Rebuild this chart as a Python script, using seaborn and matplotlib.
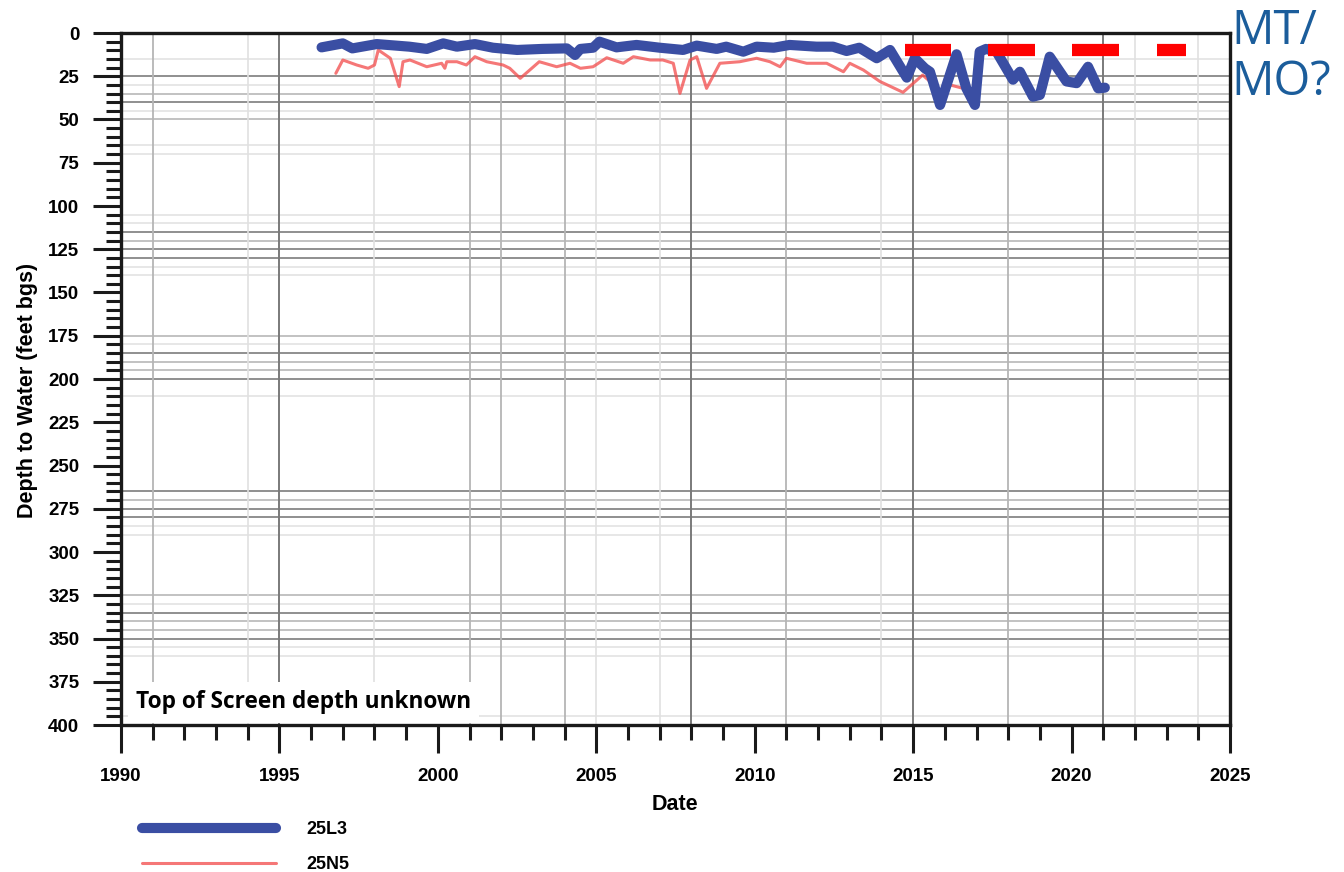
import numpy as np
import pandas as pd
import matplotlib
matplotlib.use("Agg")
import matplotlib.pyplot as plt
import seaborn as sns

# ---------------- data ----------------
l3_year = [1996.33, 1997.0, 1997.3, 1998.07, 1999.1, 1999.65, 2000.17, 2000.6, 2001.17, 2001.74,
           2002.5, 2003.3, 2004.07, 2004.33, 2004.5, 2004.9, 2005.1, 2005.64, 2006.27, 2007.0,
           2007.74, 2008.17, 2008.8, 2009.1, 2009.64, 2010.06, 2010.6, 2011.1, 2011.95, 2012.47,
           2012.9, 2013.3, 2013.85, 2014.27, 2014.8, 2015.05, 2015.37, 2015.53, 2015.85, 2016.37,
           2016.68, 2016.95, 2017.1, 2017.3, 2017.63, 2018.15, 2018.37, 2018.78, 2019.0, 2019.31,
           2019.84, 2020.16, 2020.52, 2020.84, 2021.05]
l3_depth = [8.3, 6.0, 8.9, 6.4, 7.9, 9.2, 6.0, 7.9, 6.4, 8.5,
            9.8, 9.2, 8.9, 12.7, 9.2, 8.5, 5.0, 8.3, 6.9, 8.5,
            9.8, 7.3, 9.2, 7.9, 10.8, 7.9, 8.5, 6.9, 7.9, 7.9,
            10.4, 8.5, 14.6, 9.8, 25.8, 14.6, 20.4, 22.4, 41.6, 12.3,
            32.0, 41.6, 10.8, 9.2, 10.8, 27.0, 22.4, 36.8, 35.8, 13.7,
            28.0, 29.0, 19.5, 32.0, 31.6]

n5_year = [1996.78, 1997.0, 1997.44, 1997.8, 1998.0, 1998.12, 1998.5, 1998.78, 1998.9, 1999.12,
           1999.65, 2000.12, 2000.22, 2000.28, 2000.6, 2000.9, 2001.17, 2001.54, 2002.06, 2002.27,
           2002.6, 2003.2, 2003.75, 2004.17, 2004.5, 2004.9, 2005.33, 2005.85, 2006.17, 2006.7,
           2007.1, 2007.43, 2007.64, 2007.96, 2008.17, 2008.48, 2008.9, 2009.53, 2010.06, 2010.48,
           2010.8, 2011.0, 2011.22, 2011.64, 2012.27, 2012.8, 2013.0, 2013.43, 2013.95, 2014.68,
           2015.3, 2015.53, 2015.8, 2016.16, 2016.58, 2016.79, 2016.95, 2017.1]
n5_depth = [23.3, 15.6, 18.5, 20.4, 18.5, 9.8, 14.6, 31.0, 16.6, 15.6,
            19.5, 17.5, 20.4, 16.6, 16.6, 18.5, 13.7, 16.6, 18.5, 20.4,
            26.2, 16.6, 19.5, 17.5, 20.4, 19.5, 14.3, 17.5, 13.7, 15.6,
            15.6, 17.5, 34.9, 15.6, 13.7, 32.0, 17.5, 16.6, 14.6, 16.6,
            19.5, 14.6, 15.6, 17.5, 17.5, 22.4, 17.5, 21.4, 28.0, 34.3,
            24.3, 28.0, 42.6, 30.0, 32.0, 36.8, 32.0, 18.5]

mt_start = [2014.75, 2017.35, 2020.0, 2022.7]
mt_end = [2016.2, 2018.85, 2021.5, 2023.6]
mt_depth = [10, 10, 10, 10]

series_names = ["25L3", "25N5"]
x_ticks = [1990, 1995, 2000, 2005, 2010, 2015, 2020, 2025]
y_ticks = list(range(0, 401, 25))

# ---------------- styling constants ----------------
hgrid_dark = [25, 40, 115, 125, 130, 185, 200, 265, 275, 280, 335, 350]
hgrid_mid = [35, 50, 120, 175, 190, 195, 270, 325, 340, 345]
hgrid_light = [15, 30, 45, 65, 70, 105, 110, 135, 140, 180, 210, 285, 290, 330, 355, 360, 395]
vgrid_dark = [1995, 2008, 2015, 2021]
vgrid_mid = [1991, 2001, 2002, 2004, 2011, 2018]
vgrid_light = [1994, 1998, 2005, 2007, 2014, 2022, 2024]

sns.set_theme(style="white")
plt.rcParams['font.family'] = ['Liberation Sans', 'DejaVu Sans']
plt.rcParams['text.color'] = 'black'
plt.rcParams['axes.labelcolor'] = 'black'
plt.rcParams['xtick.color'] = '#1a1a1a'
plt.rcParams['ytick.color'] = '#1a1a1a'
plt.rcParams['xtick.labelcolor'] = 'black'
plt.rcParams['ytick.labelcolor'] = 'black'

fig = plt.figure(figsize=(13.44, 8.72), dpi=100)
ax = fig.add_axes([121/1344, 1-725/872, (1230-121)/1344, (725-33)/872])

# grid
for v in hgrid_light:
    ax.axhline(v, color="#e3e3e3", lw=1.2, zorder=0)
for v in hgrid_mid:
    ax.axhline(v, color="#b8b8b8", lw=1.2, zorder=0)
for v in hgrid_dark:
    ax.axhline(v, color="#8f8f8f", lw=1.4, zorder=0)
for v in vgrid_light:
    ax.axvline(v, color="#e0e0e0", lw=1.2, zorder=0)
for v in vgrid_mid:
    ax.axvline(v, color="#b5b5b5", lw=1.3, zorder=0)
for v in vgrid_dark:
    ax.axvline(v, color="#7a7a7a", lw=1.4, zorder=0)

df_l3 = pd.DataFrame({"Date": l3_year, "Depth": l3_depth})
df_n5 = pd.DataFrame({"Date": n5_year, "Depth": n5_depth})

sns.lineplot(data=df_n5, x="Date", y="Depth", ax=ax, sort=False, color="#f24a4a",
             lw=2.2, alpha=0.75, label=series_names[1], zorder=3)
sns.lineplot(data=df_l3, x="Date", y="Depth", ax=ax, sort=False, color="#3a4ea3",
             lw=7.3, label=series_names[0], zorder=4, solid_capstyle="round",
             solid_joinstyle="round")

ax.hlines(mt_depth, mt_start, mt_end, color="#ff0000", lw=8.8, zorder=5, capstyle="butt")

ax.set_xlim(1990, 2025)
ax.set_ylim(400, 0)
ax.set_xticks(x_ticks)
ax.set_xticks(np.arange(1990, 2026, 1), minor=True)
ax.set_yticks(y_ticks)
ax.set_yticks(np.arange(0, 401, 5), minor=True)
ax.set_xticklabels([str(t) for t in x_ticks], fontsize=13.5, fontweight="bold")
ax.set_yticklabels([str(t) for t in y_ticks], fontsize=13.5, fontweight="bold")
ax.tick_params(axis="both", which="major", direction="out", length=20, width=2.2,
               pad=8, bottom=True, left=True)
ax.tick_params(axis="both", which="minor", direction="out", length=10.5, width=2.2,
               bottom=True, left=True)
ax.tick_params(axis="x", which="major", pad=11)
ax.tick_params(axis="y", which="major", pad=10)

for s in ax.spines.values():
    s.set_linewidth(2.4)
    s.set_color("#1a1a1a")
    s.set_visible(True)

ax.set_xlabel("Date", fontsize=15.5, fontweight="bold")
ax.set_ylabel("Depth to Water (feet bgs)", fontsize=15.5, fontweight="bold")
ax.xaxis.set_label_coords((675-121)/1109, -(794-725)/692)
ax.yaxis.set_label_coords((38-121)/1109, (725-390)/692)

ax.text(0.0135, 0.033, "Top of Screen depth unknown", transform=ax.transAxes,
        fontsize=16.3, fontweight="bold", family=["Open Sans", "DejaVu Sans"],
        ha="left", va="center", zorder=6, color="black",
        bbox=dict(facecolor="white", edgecolor="none", pad=6))

fig.text(1231/1344, 1-7/872, "MT/\nMO?", color="#1b5d9b", fontsize=34,
         family=["Open Sans", "DejaVu Sans"], ha="left", va="top", linespacing=1.12)

# legend below
handles, labels = ax.get_legend_handles_labels()
order = [labels.index(n) for n in series_names]
leg = ax.legend([handles[i] for i in order], [labels[i] for i in order],
                loc="upper left", bbox_to_anchor=(143/1344 - 0.0005, 1-821/872),
                bbox_transform=fig.transFigure, frameon=False,
                prop={"family": "Liberation Sans", "weight": "bold", "size": 13},
                handlelength=7.4, handletextpad=1.7, labelspacing=1.0,
                borderpad=0, borderaxespad=0)
for t in leg.get_texts():
    t.set_color("black")

fig.savefig("out.png", dpi=100)
